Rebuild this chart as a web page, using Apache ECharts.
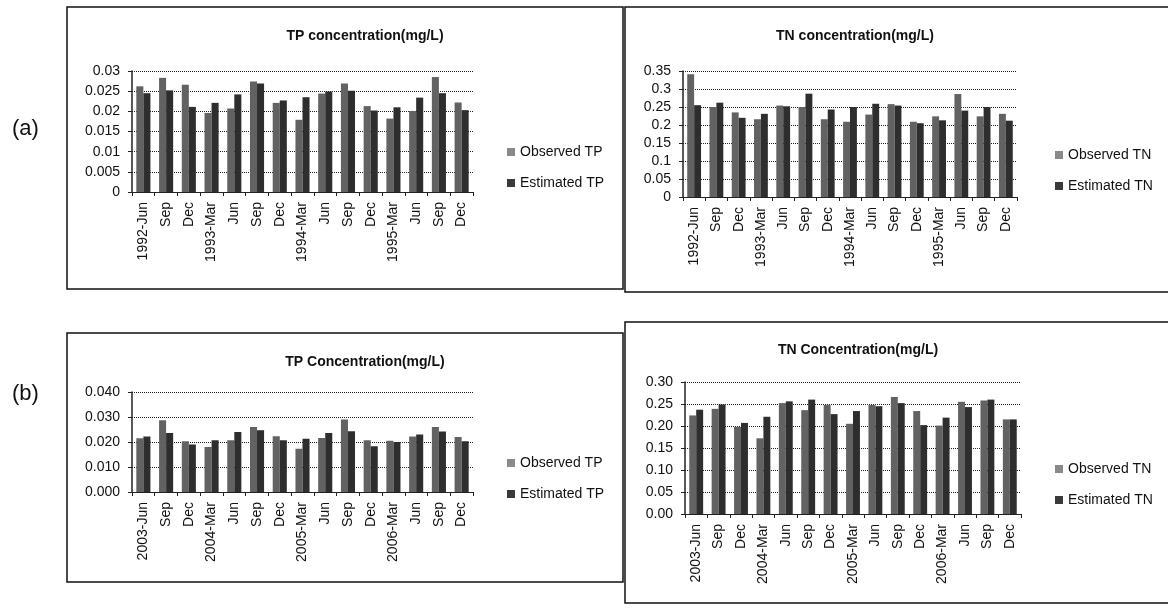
<!DOCTYPE html>
<html>
<head>
<meta charset="utf-8">
<script src="https://cdn.jsdelivr.net/npm/echarts@6/dist/echarts.min.js"></script>
<style>
html,body{margin:0;padding:0;background:#fff;}
#c{width:1168px;height:608px;}
</style>
</head>
<body>
<div id="c"></div>
<script>
const categoriesA = ['1992-Jun','Sep','Dec','1993-Mar','Jun','Sep','Dec','1994-Mar','Jun','Sep','Dec','1995-Mar','Jun','Sep','Dec'];
const categoriesB = ['2003-Jun','Sep','Dec','2004-Mar','Jun','Sep','Dec','2005-Mar','Jun','Sep','Dec','2006-Mar','Jun','Sep','Dec'];

const tpA_obs = [0.0262,0.0283,0.0266,0.0196,0.0207,0.0274,0.0221,0.0179,0.0244,0.0269,0.0213,0.0182,0.0201,0.0285,0.0222];
const tpA_est = [0.0245,0.0252,0.0211,0.0221,0.0242,0.0269,0.0227,0.0235,0.0249,0.0251,0.0202,0.0210,0.0234,0.0245,0.0203];
const tnA_obs = [0.341,0.250,0.235,0.216,0.254,0.250,0.216,0.209,0.229,0.258,0.209,0.224,0.286,0.224,0.231];
const tnA_est = [0.255,0.262,0.220,0.231,0.252,0.287,0.243,0.250,0.259,0.254,0.205,0.213,0.240,0.250,0.212];
const tpB_obs = [0.0215,0.0287,0.0203,0.0180,0.0207,0.0260,0.0223,0.0173,0.0216,0.0290,0.0207,0.0205,0.0222,0.0260,0.0220];
const tpB_est = [0.0222,0.0236,0.0190,0.0207,0.0240,0.0247,0.0207,0.0213,0.0236,0.0243,0.0183,0.0200,0.0230,0.0242,0.0203];
const tnB_obs = [0.224,0.239,0.198,0.172,0.252,0.236,0.248,0.205,0.248,0.266,0.234,0.201,0.255,0.258,0.215];
const tnB_est = [0.237,0.249,0.207,0.221,0.256,0.260,0.227,0.234,0.245,0.252,0.202,0.219,0.243,0.260,0.215];

const tpA_ticks = ['0','0.005','0.01','0.015','0.02','0.025','0.03'];
const tnA_ticks = ['0','0.05','0.1','0.15','0.2','0.25','0.3','0.35'];
const tpB_ticks = ['0.000','0.010','0.020','0.030','0.040'];
const tnB_ticks = ['0.00','0.05','0.10','0.15','0.20','0.25','0.30'];

const titles = ['TP concentration(mg/L)','TN concentration(mg/L)','TP Concentration(mg/L)','TN Concentration(mg/L)'];
const panelLabels = ['(a)','(b)'];

const FONT = 'Liberation Sans';
const OBS = '#626262', EST = '#2e2e2e';

const grids = [
  {left:132, top:71, width:341, height:121},
  {left:683, top:71, width:334, height:126},
  {left:132, top:392, width:341, height:100},
  {left:685, top:382, width:336, height:132}
];
const yCfg = [
  {max:0.03, interval:0.005, ticks:tpA_ticks},
  {max:0.35, interval:0.05, ticks:tnA_ticks},
  {max:0.04, interval:0.01, ticks:tpB_ticks},
  {max:0.30, interval:0.05, ticks:tnB_ticks}
];
const cats = [categoriesA, categoriesA, categoriesB, categoriesB];
const seriesData = [[tpA_obs,tpA_est],[tnA_obs,tnA_est],[tpB_obs,tpB_est],[tnB_obs,tnB_est]];
const names = [['Observed TP','Estimated TP'],['Observed TN','Estimated TN'],['Observed TP','Estimated TP'],['Observed TN','Estimated TN']];
const titlePos = [{x:360,y:24},{x:850,y:24},{x:360,y:350},{x:853,y:338}];
const legendPos = [{x:502,y:140},{x:1050,y:143},{x:502,y:451},{x:1050,y:457}];

const xAxis = [], yAxis = [], series = [], title = [], legend = [];
for (let i = 0; i < 4; i++) {
  xAxis.push({
    type:'category', gridIndex:i, data:cats[i],
    axisLine:{lineStyle:{color:'#222', width:1}},
    axisTick:{show:true, length:4, lineStyle:{color:'#222'}},
    axisLabel:{rotate:90, interval:0, color:'#111', fontFamily:FONT, fontSize:14, margin:10}
  });
  const tk = yCfg[i].ticks;
  yAxis.push({
    type:'value', gridIndex:i, min:0, max:yCfg[i].max, interval:yCfg[i].interval,
    axisLine:{show:true, lineStyle:{color:'#222', width:1.5}},
    axisTick:{show:true, length:4, lineStyle:{color:'#222'}},
    splitLine:{show:true, lineStyle:{color:'#222', type:'dotted', width:1}},
    axisLabel:{color:'#111', fontFamily:FONT, fontSize:14, margin:12,
      formatter:(v, idx) => tk[idx]}
  });
  series.push({
    type:'bar', name:names[i][0], xAxisIndex:i, yAxisIndex:i, data:seriesData[i][0],
    itemStyle:{color:OBS}, barGap:'0%', barCategoryGap:'38%', animation:false
  });
  series.push({
    type:'bar', name:names[i][1], xAxisIndex:i, yAxisIndex:i, data:seriesData[i][1],
    itemStyle:{color:EST}, barGap:'0%', barCategoryGap:'38%', animation:false
  });
  title.push({
    text:titles[i], left:titlePos[i].x, top:titlePos[i].y, textAlign:'center',
    textStyle:{fontFamily:FONT, fontSize:14, fontWeight:'bold', color:'#111'}
  });
  legend.push({
    data:names[i].map(n => ({name:n, itemStyle:{color: n.indexOf('Observed') === 0 ? '#8a8a8a' : '#3a3a3a'}})),
    orient:'vertical', left:legendPos[i].x, top:legendPos[i].y,
    itemWidth:8, itemHeight:8, itemGap:17, icon:'rect', selectedMode:false,
    textStyle:{fontFamily:FONT, fontSize:14, color:'#111'}
  });
}

const boxes = [
  {x:67, y:7, w:556, h:282},
  {x:625, y:7, w:560, h:285},
  {x:67, y:333, w:556, h:249},
  {x:625, y:322, w:560, h:281}
];
const graphic = boxes.map(b => ({
  type:'rect', shape:{x:b.x, y:b.y, width:b.w, height:b.h},
  style:{fill:'none', stroke:'#111', lineWidth:1.5}, silent:true
}));
graphic.push({type:'text', left:12, top:118, style:{text:panelLabels[0], font:'22px "Liberation Sans"', fill:'#111'}});
graphic.push({type:'text', left:12, top:383, style:{text:panelLabels[1], font:'22px "Liberation Sans"', fill:'#111'}});

const chart = echarts.init(document.getElementById('c'), null, {renderer:'canvas'});
chart.setOption({
  backgroundColor:'#ffffff',
  animation:false,
  title, legend, grid:grids, xAxis, yAxis, series, graphic
});
</script>
</body>
</html>
